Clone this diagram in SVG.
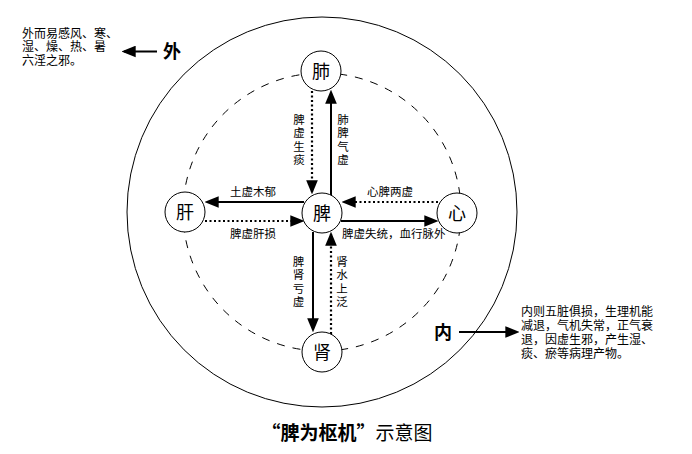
<svg xmlns="http://www.w3.org/2000/svg" width="692" height="454" viewBox="0 0 692 454">
<style>
text{font-family:"Noto Sans CJK SC","Liberation Sans",sans-serif;fill:#000}
.node circle{fill:#fff;stroke:#000;stroke-width:1}
.node text{font-size:18px;text-anchor:middle}
.lbl{font-size:11.5px}
.vl{font-size:11.5px;writing-mode:vertical-rl;letter-spacing:1.8px}
.blk{font-size:12px}
.solid{stroke:#000;stroke-width:2;fill:none}
.dot{stroke:#000;stroke-width:2.2;fill:none;stroke-dasharray:2 2.5}
</style>
<defs>
<marker id="ah" markerUnits="userSpaceOnUse" markerWidth="14" markerHeight="12" refX="10" refY="5" orient="auto" viewBox="0 0 12 10">
<path d="M0,0 L12,5 L0,10 z" fill="#000" stroke="none"/>
</marker>
</defs>
<rect width="692" height="454" fill="#fff"/>
<circle cx="322" cy="212" r="195" fill="none" stroke="#000" stroke-width="1"/>
<circle cx="322" cy="212" r="139" fill="none" stroke="#000" stroke-width="1" stroke-dasharray="8 8"/>
<g id="connectors">
<line class="dot" x1="312" y1="91" x2="312" y2="192" marker-end="url(#ah)"/>
<line class="solid" x1="331" y1="195" x2="331" y2="92" marker-end="url(#ah)"/>
<line class="solid" x1="304" y1="202" x2="207" y2="202" marker-end="url(#ah)"/>
<line class="dot" x1="205" y1="221" x2="302" y2="221" marker-end="url(#ah)"/>
<line class="dot" x1="438" y1="202" x2="344" y2="202" marker-end="url(#ah)"/>
<line class="solid" x1="341" y1="221" x2="436" y2="221" marker-end="url(#ah)"/>
<line class="solid" x1="313" y1="232" x2="313" y2="330" marker-end="url(#ah)"/>
<line class="dot" x1="331" y1="334" x2="331" y2="234" marker-end="url(#ah)"/>
<line class="solid" x1="157" y1="51.5" x2="124" y2="51.5" marker-end="url(#ah)"/>
<line class="solid" x1="459" y1="332" x2="517" y2="332" marker-end="url(#ah)"/>
</g>
<g id="node-fei" class="node"><circle cx="321" cy="71" r="20"/><text x="321" y="77.5">肺</text></g>
<g id="node-gan" class="node"><circle cx="185" cy="212" r="20"/><text x="185" y="218.5">肝</text></g>
<g id="node-pi" class="node"><circle cx="322" cy="213" r="20"/><text x="322" y="219.5">脾</text></g>
<g id="node-xin" class="node"><circle cx="457" cy="213" r="20"/><text x="457" y="219.5">心</text></g>
<g id="node-shen" class="node"><circle cx="322" cy="352" r="20"/><text x="322" y="358.5">肾</text></g>
<g id="labels">
<text class="vl" x="299" y="114">脾虚生痰</text>
<text class="vl" x="343" y="114">肺脾气虚</text>
<text class="vl" x="298.5" y="256">脾肾亏虚</text>
<text class="vl" x="342" y="256">肾水上泛</text>
<text class="lbl" x="253" y="196" text-anchor="middle">土虚木郁</text>
<text class="lbl" x="253" y="237.5" text-anchor="middle">脾虚肝损</text>
<text class="lbl" x="390" y="196" text-anchor="middle">心脾两虚</text>
<text class="lbl" x="342" y="237.5">脾虚失统，血行脉外</text>
</g>
<g id="outer">
<text class="blk" x="22" y="37.5">外而易感风、寒、</text>
<text class="blk" x="22" y="51.2">湿、燥、热、暑</text>
<text class="blk" x="22" y="65">六淫之邪。</text>
<text x="163" y="58" font-size="18" font-weight="bold">外</text>
</g>
<g id="inner">
<text x="434" y="339" font-size="18" font-weight="bold">内</text>
<text class="blk" x="521" y="315.5">内则五脏俱损，生理机能</text>
<text class="blk" x="521" y="329.5">减退，气机失常，正气衰</text>
<text class="blk" x="521" y="343.5">退，因虚生邪，产生湿、</text>
<text class="blk" x="521" y="357.5">痰、瘀等病理产物。</text>
</g>
<text x="347" y="440" font-size="19" text-anchor="middle"><tspan font-weight="bold">“脾为枢机”</tspan>示意图</text>
</svg>
